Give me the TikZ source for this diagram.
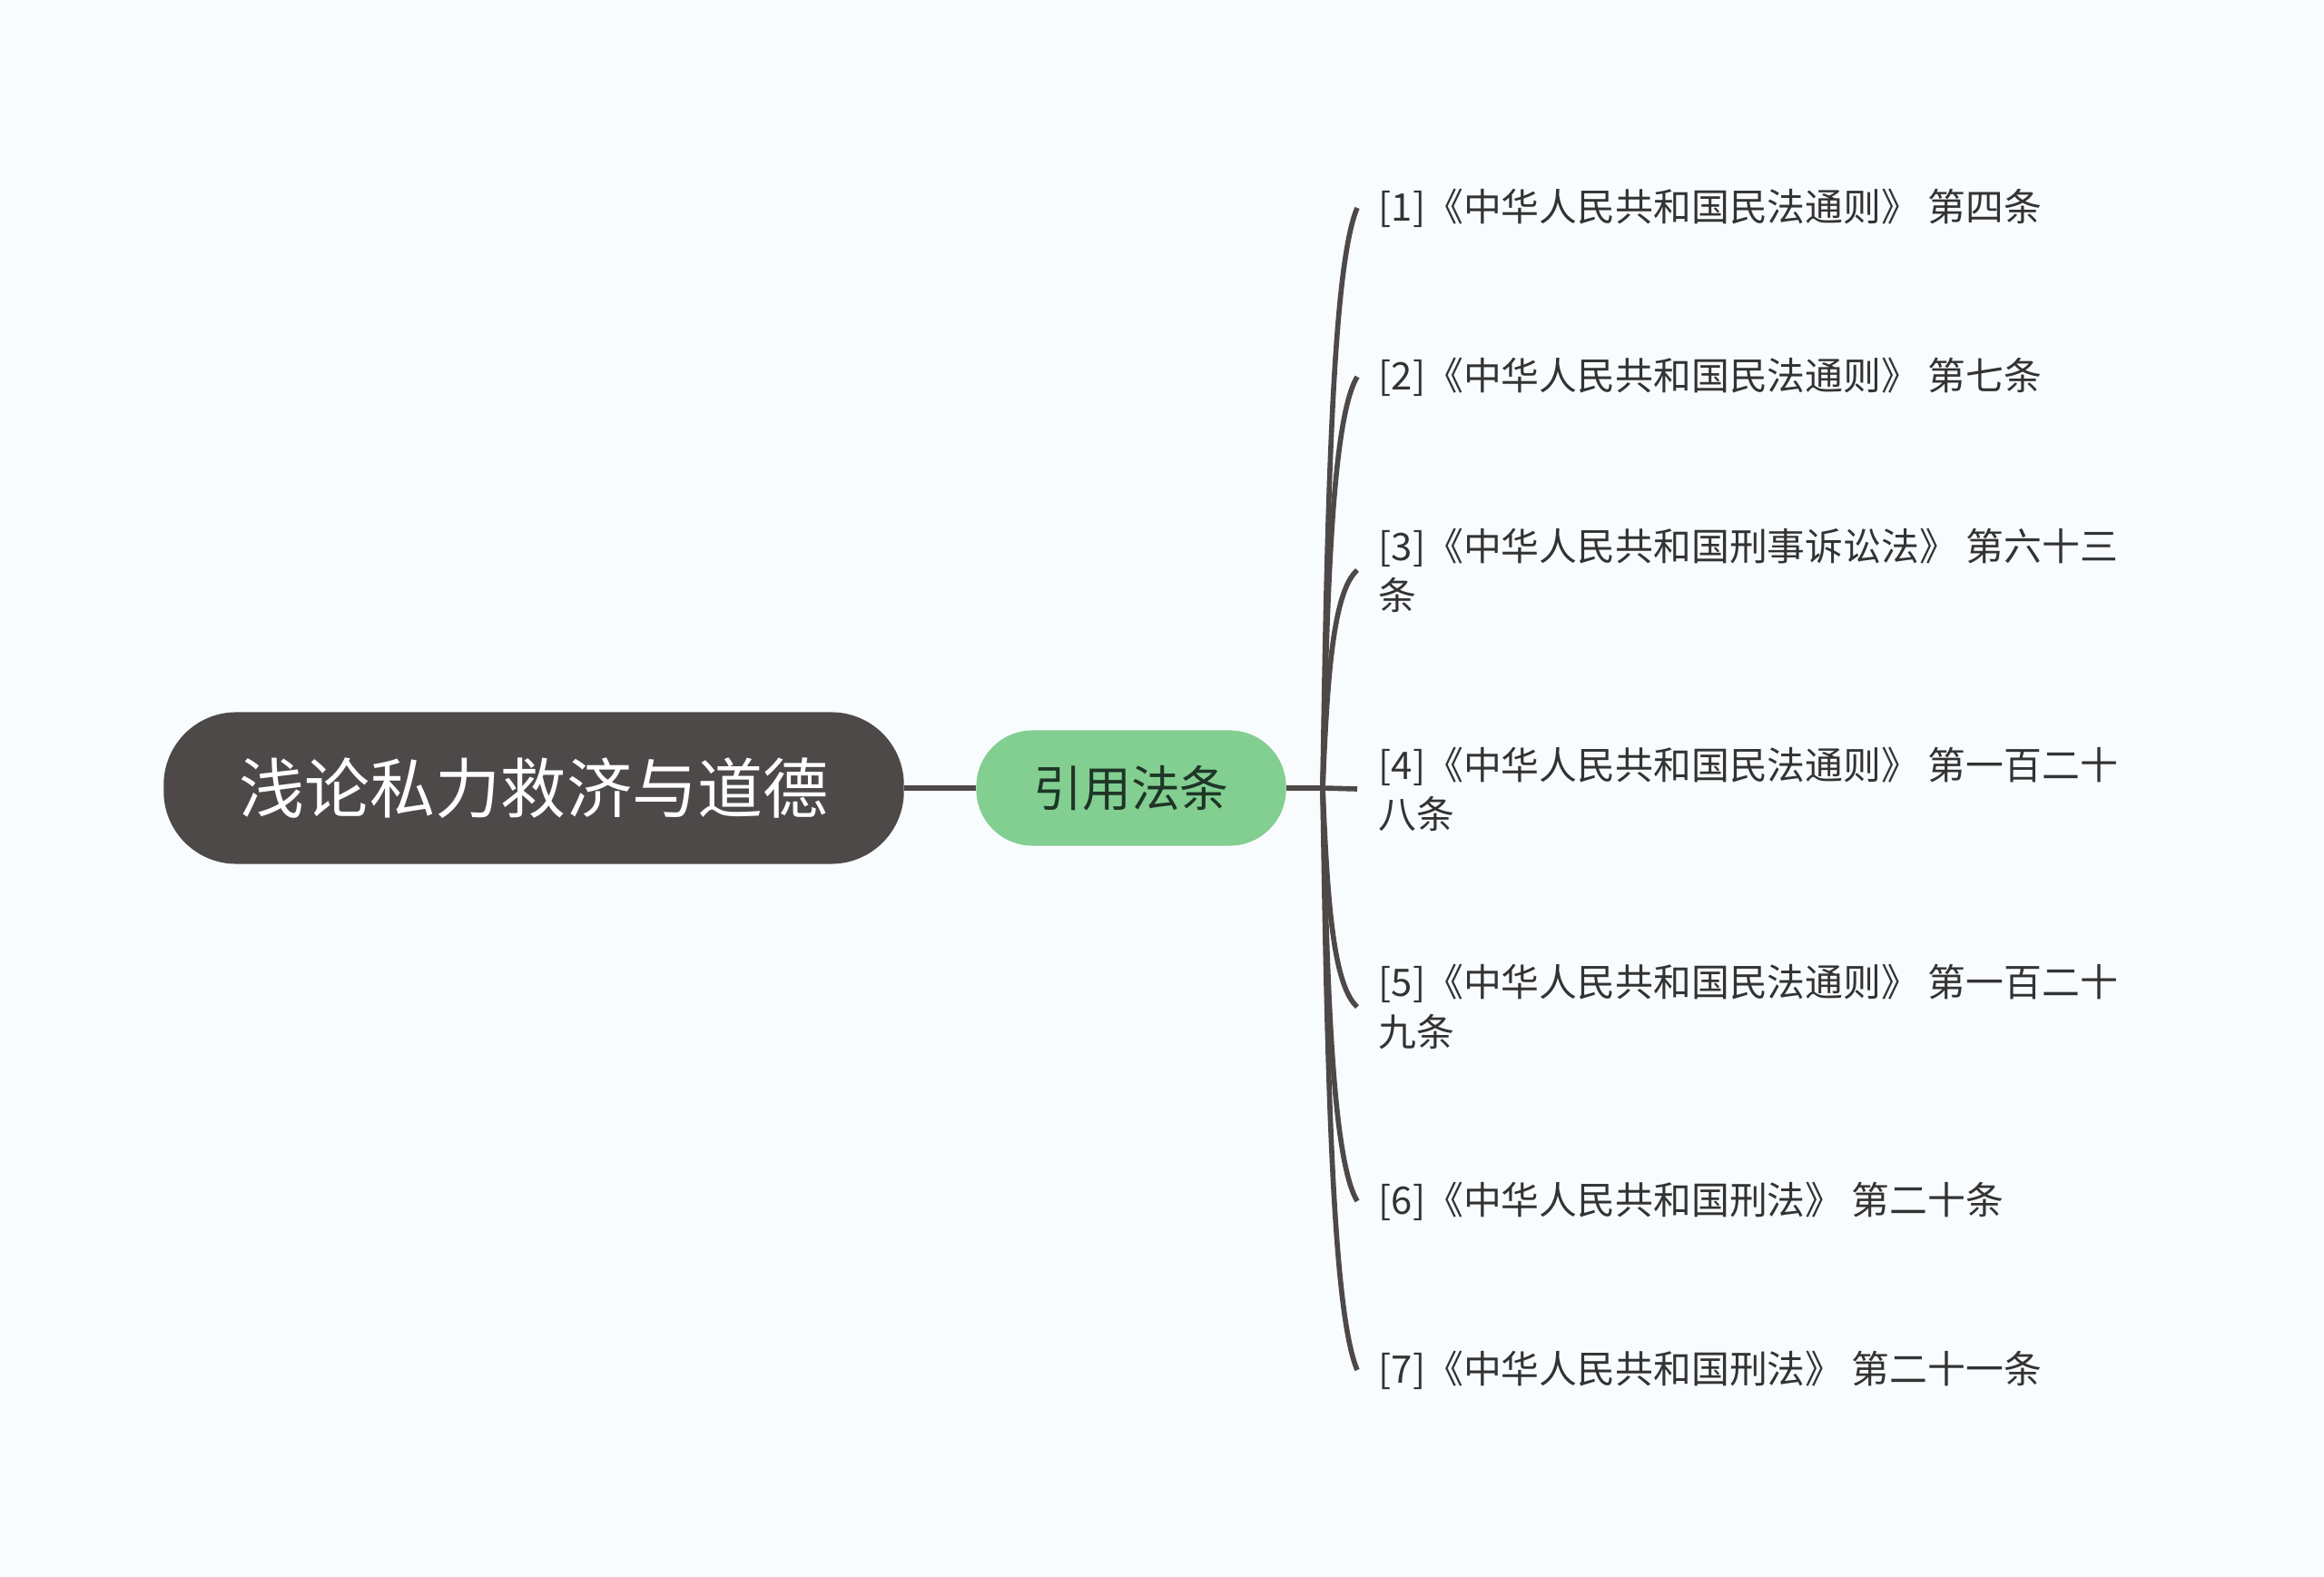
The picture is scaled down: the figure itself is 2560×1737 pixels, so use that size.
\documentclass[tikz,border=0pt]{standalone}
\usepackage{fontspec}
\setmainfont{Noto Sans CJK SC}
\usepackage{xcolor}
\definecolor{RootGrey}{HTML}{4D4949}
\definecolor{TopicGreen}{HTML}{82CF91}
\definecolor{TopicText}{HTML}{1F3527}
\definecolor{LeafText}{HTML}{333333}
\definecolor{PaperTint}{HTML}{F9FCFE}

\begin{document}
\begin{tikzpicture}[x=0.01cm,y=-0.01cm,
    rootnode/.style={fill=RootGrey,text=white,rounded corners=0.8cm,minimum width=8.15cm,minimum height=1.67cm,font=\fontsize{20.5}{25}\selectfont},
    topicnode/.style={fill=TopicGreen,text=TopicText,rounded corners=0.62cm,minimum width=3.41cm,minimum height=1.27cm,font=\fontsize{15.3}{18}\selectfont},
    leafnode/.style={anchor=west,align=left,inner xsep=0.23cm,text=LeafText,font=\fontsize{11.9}{15.4}\selectfont},
    link/.style={draw=RootGrey,line width=1.6pt}]
    \fill[PaperTint] (0,0) rectangle (2560,1737);
    \useasboundingbox (0,0) rectangle (2560,1737);
    \node[rootnode] (root) at (588,868) {浅论私力救济与道德};
    \node[topicnode] (topic) at (1246,868) {引用法条};
    \coordinate (hub) at (1457,868);
    \node[leafnode] (l1) at (1495,229) {[1]《中华人民共和国民法通则》 第四条};
    \node[leafnode] (l2) at (1495,415) {[2]《中华人民共和国民法通则》 第七条};
    \node[leafnode] (l3) at (1495,628) {[3]《中华人民共和国刑事诉讼法》 第六十三\\条};
    \node[leafnode] (l4) at (1495,869) {[4]《中华人民共和国民法通则》 第一百二十\\八条};
    \node[leafnode] (l5) at (1495,1109) {[5]《中华人民共和国民法通则》 第一百二十\\九条};
    \node[leafnode] (l6) at (1495,1323) {[6]《中华人民共和国刑法》 第二十条};
    \node[leafnode] (l7) at (1495,1509) {[7]《中华人民共和国刑法》 第二十一条};
    \draw[link] (root) -- (topic);
    \draw[link] (topic) -- (hub);
    \foreach \n/\y in {1/229,2/415,3/628,5/1109,6/1323,7/1509}
      \draw[link] (hub) .. controls (1462,{\y+0.5*(868-\y)}) and (1468,{\y+0.1*(868-\y)}) .. (l\n.west);
    \draw[link] (hub) -- (l4.west);
  \end{tikzpicture}
\end{document}
